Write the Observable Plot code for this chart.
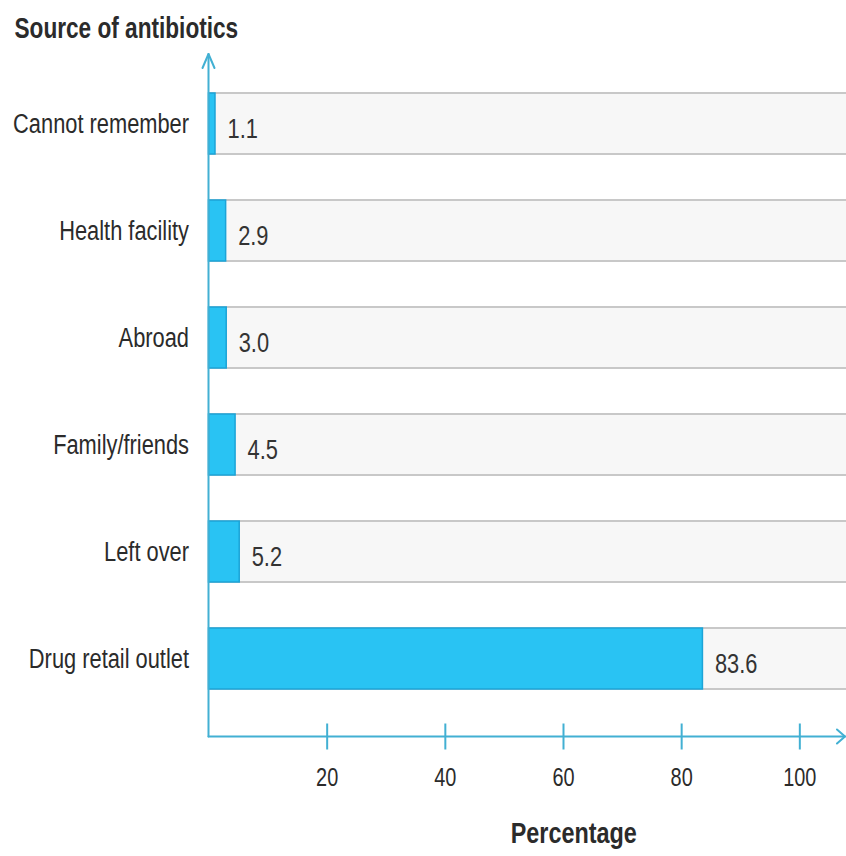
<!DOCTYPE html>
<html>
<head>
<meta charset="utf-8">
<script src="https://cdn.jsdelivr.net/npm/d3@7"></script>
<script src="https://cdn.jsdelivr.net/npm/@observablehq/plot@0.6"></script>
<style>
  body { margin: 0; background: #fff; }
  #chart svg { display: block; overflow: hidden; }
</style>
</head>
<body>
<div id="chart"></div>
<script>
// Where respondents obtained their antibiotics (%)
const sources = ["Cannot remember", "Health facility", "Abroad", "Family/friends", "Left over", "Drug retail outlet"];
const percentages = [1.1, 2.9, 3.0, 4.5, 5.2, 83.6];
const xTicks = [20, 40, 60, 80, 100];
const xMax = 107.9;

const data = sources.map((source, i) => ({source, pct: percentages[i]}));

const W = 846, H = 856;
const mL = 208.5, mR = 0, mT = 46, mB = 119.5;
const frameH = H - mT - mB;
const axisColor = "#42b0d3";
const font = '"Liberation Sans", Arial, sans-serif';
const narrow = 0.78; // horizontal squeeze giving a narrow face

const plot = Plot.plot({
  width: W,
  height: H,
  marginLeft: mL,
  marginRight: mR,
  marginTop: mT,
  marginBottom: mB,
  style: {fontFamily: font, color: "#2b2b2b", background: "#fff"},
  x: {domain: [0, xMax]},
  y: {domain: sources, padding: 0.43},
  marks: [
    // light track behind each bar, running to the end of the axis
    Plot.barX(sources, {y: d => d, x1: 0, x2: xMax + 5, fill: "#f7f7f7", stroke: "#c8c8c8", strokeWidth: 2, clip: true}),
    Plot.barX(data, {y: "source", x: "pct", fill: "#29c3f3", stroke: "#1ca4d7", strokeWidth: 1.5}),
    Plot.text(data, {y: "source", x: "pct", text: d => d.pct.toFixed(1), dx: 12, dy: 5, textAnchor: "start", fontSize: 28, fill: "#333"}),
    Plot.axisY({tickSize: 0, tickPadding: 20, fontSize: 28, label: null}),
    // tick marks crossing the x axis line
    Plot.tickX(xTicks, {x: d => d, stroke: axisColor, strokeWidth: 2, insetTop: frameH - 13, insetBottom: -13}),
    Plot.axisX({ticks: xTicks, tickSize: 0, tickPadding: 31, fontSize: 25.5, label: null}),
    Plot.text(["Source of antibiotics"], {text: d => d, frameAnchor: "top-left", dx: 14 - mL, dy: -18, lineAnchor: "middle", textAnchor: "start", fontSize: 29, fontWeight: "bold"}),
    Plot.text(["Percentage"], {text: d => d, frameAnchor: "bottom", dx: 46, dy: 96, lineAnchor: "middle", fontSize: 30, fontWeight: "bold"})
  ]
});

// narrow every label about its own anchor point
d3.select(plot).selectAll("text").each(function() {
  const t = d3.select(this);
  const x = +(t.attr("x") || 0);
  const prev = t.attr("transform") || "";
  t.attr("transform", `${prev} translate(${x},0) scale(${narrow},1) translate(${-x},0)`.trim());
});

// axis lines with open arrowheads
const svg = d3.select(plot);
const x0 = plot.scale("x").apply(0);
const yBase = H - mB;
const yTop = 54;
const g = svg.append("g")
  .attr("fill", "none")
  .attr("stroke", axisColor)
  .attr("stroke-width", 2)
  .attr("stroke-linecap", "round")
  .attr("stroke-linejoin", "round");
g.append("line").attr("x1", x0).attr("y1", yBase).attr("x2", x0).attr("y2", yTop);
g.append("path").attr("d", `M${x0 - 6},${yTop + 14}L${x0},${yTop}L${x0 + 6},${yTop + 14}`);
g.append("line").attr("x1", x0).attr("y1", yBase).attr("x2", W - 1).attr("y2", yBase);
g.append("path").attr("d", `M${W - 9},${yBase - 7}L${W - 1},${yBase}L${W - 9},${yBase + 7}`);

document.getElementById("chart").appendChild(plot);
</script>
</body>
</html>
